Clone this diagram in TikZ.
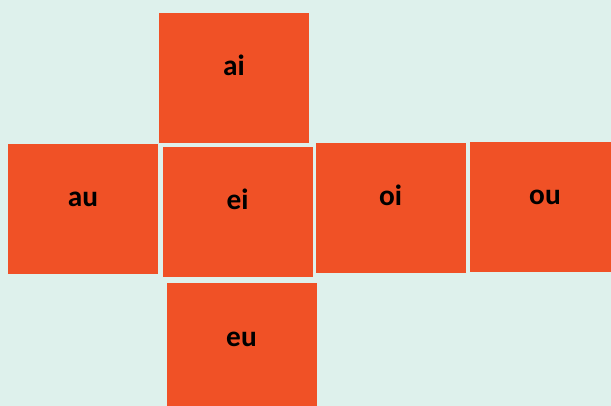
\documentclass[tikz,border=0pt]{standalone}
\usepackage{fontspec}
\setmainfont{Carlito}
\usepackage{xcolor}
\usepackage{tikz}
\usetikzlibrary{positioning}

\definecolor{mintbg}{RGB}{222,241,236}
\definecolor{tileorange}{RGB}{240,81,38}

\tikzset{
  vowelbox/.style={rectangle, fill=tileorange, inner sep=0pt,
    minimum width=112.5pt, minimum height=97.5pt,
    text height=0pt, text depth=3pt,
    font=\bfseries\fontsize{22}{26}\selectfont}
}

\begin{document}
\begin{tikzpicture}[x=0.75pt, y=-0.75pt]
			\useasboundingbox (0,0) rectangle (611,406);
			\clip (0,0) rectangle (611,406);
			\fill[mintbg] (0,0) rectangle (611,406);
			% tiles, centres in pixel units
			\node[vowelbox] (ai) at (234,78) {ai};
			\node[vowelbox] (au) at (83,209) {au};
			\node[vowelbox] (ei) at (237.5,212) {ei};
			\node[vowelbox] (oi) at (390.5,208) {oi};
			\node[vowelbox] (ou) at (545,207) {ou};
			\node[vowelbox] (eu) at (241.5,348) {eu};
		\end{tikzpicture}
\end{document}
